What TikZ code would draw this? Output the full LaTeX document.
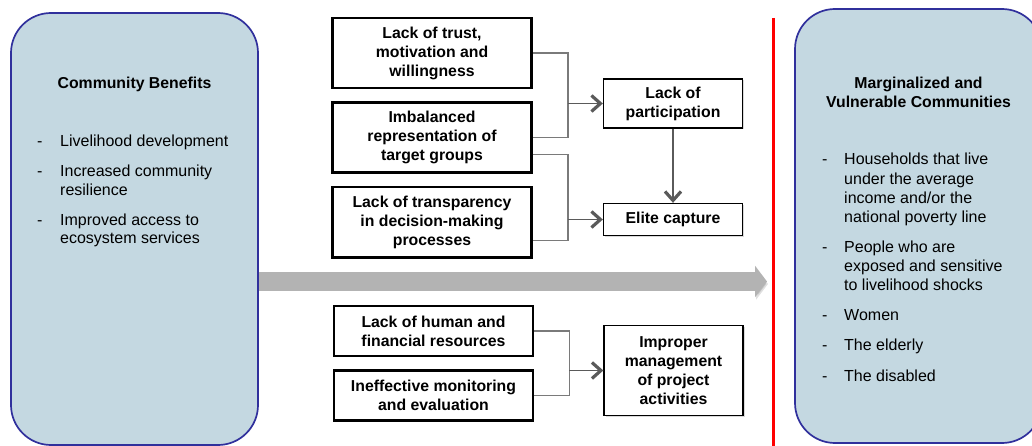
\documentclass[tikz,border=0pt]{standalone}
\usepackage{fontspec}
\setmainfont{Liberation Sans}
\usetikzlibrary{arrows.meta,positioning,calc,shadows}
\definecolor{panelfill}{HTML}{C4D8E1}
\definecolor{paneledge}{HTML}{30309C}
\definecolor{linkgray}{HTML}{7A7A7A}
\definecolor{headgray}{HTML}{5A5A5A}
\definecolor{flowgray}{HTML}{B3B3B3}
\definecolor{divider}{HTML}{FF0000}
\newcommand{\causefont}{\fontsize{15.8}{19}\selectfont\bfseries}
\newcommand{\leftlistfont}{\fontsize{16}{18.5}\selectfont}
\newcommand{\rightlistfont}{\fontsize{16}{19.2}\selectfont}
\tikzset{
  panel/.style={draw=paneledge,line width=1.7pt,fill=panelfill,rounded corners=40pt,minimum width=247pt,inner sep=0pt},
  cause/.style={draw=black,line width=2.6pt,fill=white,minimum width=199pt,align=center,inner sep=2pt,font=\causefont},
  effect/.style={draw=black,line width=1.3pt,fill=white,minimum width=139pt,align=center,inner sep=2pt,font=\causefont,
    drop shadow={shadow xshift=1.5pt,shadow yshift=-1.5pt,opacity=.3}},
  link/.style={draw=linkgray,line width=1.3pt},
  arr/.style={-{Straight Barb[length=9pt,width=16pt,line width=3.2pt]},draw=headgray,line width=1.5pt},
  flow/.style={-{Triangle[length=12pt,width=31pt]},draw=flowgray,line width=19pt,
    preaction={draw=black,opacity=.12,transform canvas={shift={(1pt,-2.5pt)}}}},
  divline/.style={draw=divider,line width=3pt},
  paneltitle/.style={font=\causefont,align=center,inner sep=0pt},
  panellist/.style={inner sep=0pt,anchor=base west}
}

\begin{document}
\begin{tikzpicture}[x=1pt,y=-1pt,node distance=12pt]
\useasboundingbox (0,0) rectangle (1032,446);
\clip (0,0) rectangle (1032,446);
% side panels
\node[panel,minimum height=432pt] (benefits) at (134.5,229) {};
\node[panel,minimum height=434pt] (communities) at (918.5,226) {};
\node[paneltitle,anchor=base] (benefitstitle) at (134.5,89) {Community Benefits};
\node[paneltitle] (communitiestitle) at (918.5,92) {Marginalized and\\Vulnerable Communities};
\node[panellist,font=\leftlistfont] (benefitslist) at (37,147) {\begin{tabular}[t]{@{}p{23pt}@{}l@{}}
- & Livelihood development\\[11.5pt]
- & Increased community\\ & resilience\\[11.5pt]
- & Improved access to\\ & ecosystem services
\end{tabular}};
\node[panellist,font=\rightlistfont] (communitieslist) at (822,165) {\begin{tabular}[t]{@{}p{22pt}@{}l@{}}
- & Households that live\\ & under the average\\ & income and/or the\\ & national poverty line\\[10.8pt]
- & People who are\\ & exposed and sensitive\\ & to livelihood shocks\\[10.8pt]
- & Women\\[10.8pt]
- & The elderly\\[10.8pt]
- & The disabled
\end{tabular}};
% flow and divider
\coordinate (flowtip) at (767,281.5);
\draw[flow] (benefits.east |- flowtip) -- (flowtip);
\coordinate (divtop) at (773,18);
\coordinate (divbot) at (773,446);
\draw[divline] (divtop) -- (divbot);
% barriers
\node[cause,minimum height=70pt] (trust) at (432,53) {Lack of trust,\\motivation and\\willingness};
\node[cause,minimum height=70pt,below=of trust] (imbalance) {Imbalanced\\representation of\\target groups};
\node[cause,minimum height=70pt,below=of imbalance] (transparency) {Lack of transparency\\in decision-making\\processes};
\node[cause,minimum height=50pt] (resources) at (433.5,331) {Lack of human and\\financial resources};
\node[cause,minimum height=50pt,below=of resources] (monitoring) {Ineffective monitoring\\and evaluation};
% outcomes
\node[effect,minimum height=49pt] (participation) at (673,103.5) {Lack of\\participation};
\node[effect,minimum height=32pt] (elite) at (673,219.5) {Elite capture};
\node[effect,minimum height=90pt] (management) at (673.5,370.5) {Improper\\management\\of project\\activities};
% joins
\coordinate (jA) at ([xshift=-35pt]participation.west);
\coordinate (jB) at ([xshift=-35pt]elite.west);
\coordinate (jC) at ([xshift=-34pt]management.west);
\draw[link] (trust.east) -| (jA) |- (imbalance.east);
\draw[link] ($(imbalance.east)+(0,17)$) -| (jB) |- ($(transparency.east)+(0,18)$);
\draw[link] (resources.east) -| (jC) |- (monitoring.east);
\draw[arr] (jA) -- (participation);
\draw[arr] (jB) -- (elite);
\draw[arr] (jC) -- (management);
\draw[arr] (participation) -- (elite);
\end{tikzpicture}
\end{document}
